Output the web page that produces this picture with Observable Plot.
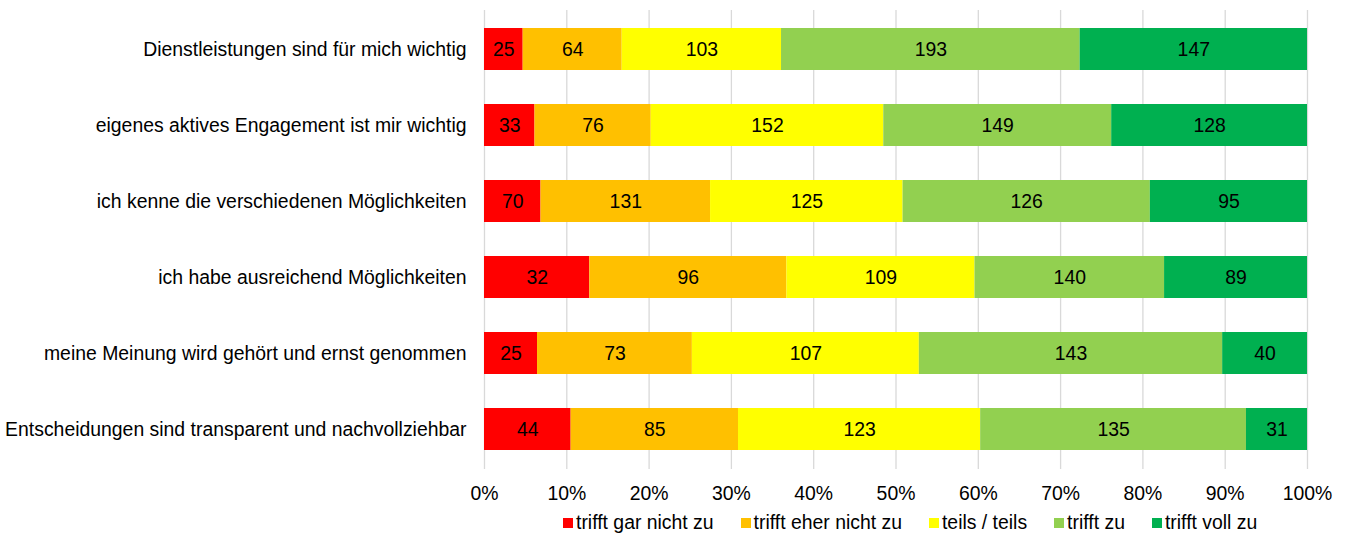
<!DOCTYPE html>
<html><head><meta charset="utf-8">
<script src="https://cdn.jsdelivr.net/npm/d3@7"></script>
<script src="https://cdn.jsdelivr.net/npm/@observablehq/plot@0.6"></script>
<style>
body{margin:0;background:#fff;font-family:"Liberation Sans",Arial,sans-serif;}
#legend{position:relative;height:35px;display:flex;align-items:center;padding-left:563px;gap:27px;font-size:19.4px;color:#000;}
.item{display:flex;align-items:center;white-space:nowrap;}
.sw{width:10px;height:10px;margin-right:3px;flex:none;}
</style></head><body><div id="chart"></div><div id="legend"></div>
<script>
const categories = [
  "Dienstleistungen sind für mich wichtig",
  "eigenes aktives Engagement ist mir wichtig",
  "ich kenne die verschiedenen Möglichkeiten",
  "ich habe ausreichend Möglichkeiten",
  "meine Meinung wird gehört und ernst genommen",
  "Entscheidungen sind transparent und nachvollziehbar"
];
const series = ["trifft gar nicht zu", "trifft eher nicht zu", "teils / teils", "trifft zu", "trifft voll zu"];
const colors = ["#FF0000", "#FFC000", "#FFFF00", "#92D050", "#00B050"];

// segment sizes as drawn (bar widths)
const valGarNicht = [25, 33, 32, 70, 25, 44];
const valEherNicht = [64, 76, 96, 131, 73, 85];
const valTeils = [103, 152, 109, 125, 107, 123];
const valZu = [193, 149, 140, 126, 143, 135];
const valVoll = [147, 128, 89, 95, 40, 31];

// data labels as printed in the chart
const lblGarNicht = [25, 33, 70, 32, 25, 44];
const lblEherNicht = [64, 76, 131, 96, 73, 85];
const lblTeils = [103, 152, 125, 109, 107, 123];
const lblZu = [193, 149, 126, 140, 143, 135];
const lblVoll = [147, 128, 95, 89, 40, 31];

const xTicks = [0, 0.1, 0.2, 0.3, 0.4, 0.5, 0.6, 0.7, 0.8, 0.9, 1];

const vals = [valGarNicht, valEherNicht, valTeils, valZu, valVoll];
const lbls = [lblGarNicht, lblEherNicht, lblTeils, lblZu, lblVoll];
const data = [];
categories.forEach((c, i) => {
  series.forEach((s, j) => {
    data.push({cat: c, series: s, value: vals[j][i], label: lbls[j][i]});
  });
});

const FS = "19.4px";
const chart = Plot.plot({
  width: 1345,
  height: 505,
  marginLeft: 484,
  marginRight: 38,
  marginTop: 10,
  marginBottom: 36,
  style: {fontFamily: '"Liberation Sans", Arial, sans-serif', fontSize: FS, color: "#000", background: "#fff"},
  x: {domain: [0, 1]},
  y: {domain: categories, paddingInner: 0.444, paddingOuter: 0.222},
  color: {domain: series, range: colors},
  marks: [
    Plot.gridX(xTicks, {stroke: "#D9D9D9", strokeOpacity: 1, strokeWidth: 1.3}),
    Plot.barX(data, Plot.stackX({offset: "normalize", x: "value", y: "cat", fill: "series"})),
    Plot.text(data, Plot.stackX({offset: "normalize", x: "value", y: "cat", z: "series", text: "label", fill: "#000", fontSize: FS})),
    Plot.axisX({ticks: xTicks, tickSize: 0, tickPadding: 17, tickFormat: d => Math.round(d * 100) + "%", label: null, fontSize: FS}),
    Plot.axisY({tickSize: 0, tickPadding: 18, label: null, fontSize: FS})
  ]
});
document.getElementById("chart").appendChild(chart);

const legend = document.getElementById("legend");
series.forEach((s, j) => {
  const it = document.createElement("div");
  it.className = "item";
  const sw = document.createElement("span");
  sw.className = "sw";
  sw.style.background = colors[j];
  it.appendChild(sw);
  it.appendChild(document.createTextNode(s));
  legend.appendChild(it);
});
</script></body></html>
